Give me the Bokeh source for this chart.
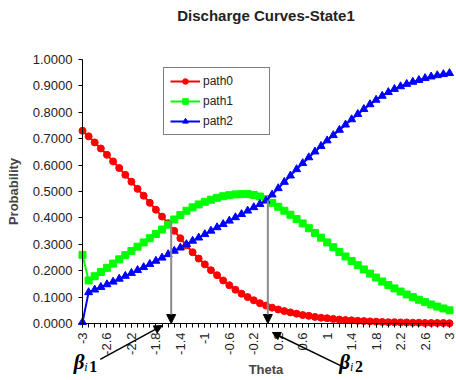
from math import pi
from bokeh.plotting import figure
from bokeh.models import Range1d, FixedTicker, NumeralTickFormatter, Arrow, NormalHead, Label
from bokeh.embed import file_html
from bokeh.resources import INLINE

theta = [-3.0, -2.9, -2.8, -2.7, -2.6, -2.5, -2.4, -2.3, -2.2, -2.1,
         -2.0, -1.9, -1.8, -1.7, -1.6, -1.5, -1.4, -1.3, -1.2, -1.1,
         -1.0, -0.9, -0.8, -0.7, -0.6, -0.5, -0.4, -0.3, -0.2, -0.1,
         0.0, 0.1, 0.2, 0.3, 0.4, 0.5, 0.6, 0.7, 0.8, 0.9,
         1.0, 1.1, 1.2, 1.3, 1.4, 1.5, 1.6, 1.7, 1.8, 1.9,
         2.0, 2.1, 2.2, 2.3, 2.4, 2.5, 2.6, 2.7, 2.8, 2.9, 3.0]

path0 = [0.730, 0.709, 0.686, 0.663, 0.639, 0.614, 0.589, 0.563, 0.537, 0.510,
         0.484, 0.457, 0.431, 0.405, 0.380, 0.351, 0.323, 0.296, 0.270, 0.246,
         0.224, 0.202, 0.183, 0.163, 0.145, 0.128, 0.113, 0.100, 0.088, 0.077,
         0.068, 0.060, 0.053, 0.047, 0.042, 0.037, 0.032, 0.029, 0.025, 0.022,
         0.020, 0.017, 0.015, 0.013, 0.012, 0.010, 0.009, 0.008, 0.007, 0.006,
         0.005, 0.005, 0.004, 0.004, 0.003, 0.003, 0.002, 0.002, 0.002, 0.002, 0.001]

path1 = [0.260, 0.163, 0.179, 0.195, 0.211, 0.227, 0.243, 0.259, 0.275, 0.291,
         0.307, 0.323, 0.339, 0.356, 0.374, 0.394, 0.411, 0.427, 0.440, 0.451,
         0.461, 0.469, 0.476, 0.482, 0.486, 0.489, 0.490, 0.490, 0.487, 0.481,
         0.471, 0.457, 0.442, 0.427, 0.412, 0.396, 0.379, 0.361, 0.343, 0.325,
         0.307, 0.289, 0.271, 0.254, 0.237, 0.221, 0.205, 0.189, 0.174, 0.159,
         0.146, 0.133, 0.121, 0.110, 0.100, 0.090, 0.081, 0.072, 0.064, 0.057, 0.050]

path2 = [0.005, 0.118, 0.128, 0.138, 0.148, 0.158, 0.169, 0.180, 0.191, 0.202,
         0.213, 0.225, 0.237, 0.249, 0.262, 0.275, 0.287, 0.300, 0.313, 0.325,
         0.338, 0.351, 0.364, 0.376, 0.389, 0.402, 0.414, 0.427, 0.440, 0.452,
         0.465, 0.488, 0.512, 0.536, 0.560, 0.584, 0.607, 0.629, 0.651, 0.672,
         0.693, 0.713, 0.733, 0.753, 0.773, 0.793, 0.812, 0.830, 0.847, 0.862,
         0.876, 0.888, 0.898, 0.907, 0.915, 0.922, 0.929, 0.935, 0.940, 0.944, 0.948]

x_label_ticks = [-3.0, -2.6, -2.2, -1.8, -1.4, -1.0, -0.6, -0.2,
                 0.2, 0.6, 1.0, 1.4, 1.8, 2.2, 2.6, 3.0]
x_tick_labels = ["-3", "-2.6", "-2.2", "-1.8", "-1.4", "-1", "-0.6", "-0.2",
                 "0.2", "0.6", "1", "1.4", "1.8", "2.2", "2.6", "3"]
y_ticks = [0.0, 0.1, 0.2, 0.3, 0.4, 0.5, 0.6, 0.7, 0.8, 0.9, 1.0]

# thresholds (beta) and the heights where the curves cross
beta_x = [-1.55, 0.03]
beta_top = [0.386, 0.466]
beta_index = ["1", "2"]

FONT = "Liberation Sans"

# canvas geometry: axes are fixed inside a frame that fills the canvas
W, H = 456, 380
AX_LEFT, AX_RIGHT, AX_TOP, AX_BOTTOM = 82, 449, 59, 323
xpp = 6.0 / (AX_RIGHT - AX_LEFT)
ypp = 1.0 / (AX_BOTTOM - AX_TOP)
x_range = Range1d(-3 - AX_LEFT * xpp, 3 + (W - AX_RIGHT) * xpp)
y_range = Range1d(-(H - AX_BOTTOM) * ypp, 1 + AX_TOP * ypp)

p = figure(width=W, height=H, output_backend="svg", toolbar_location=None,
           x_range=x_range, y_range=y_range,
           min_border_left=0, min_border_right=0, min_border_top=0, min_border_bottom=0,
           background_fill_color="white")
p.outline_line_color = None
p.grid.visible = False

# y axis
p.yaxis.fixed_location = -3
p.yaxis.bounds = (0, 1)
p.yaxis.ticker = FixedTicker(ticks=y_ticks)
p.yaxis.formatter = NumeralTickFormatter(format="0.0000")
p.yaxis.axis_label = "Probability"
p.yaxis.axis_label_text_font = FONT
p.yaxis.axis_label_text_font_size = "13px"
p.yaxis.axis_label_text_font_style = "bold"
p.yaxis.axis_label_standoff = 9
p.yaxis.major_label_text_font = FONT
p.yaxis.major_label_text_font_size = "13px"
p.yaxis.major_label_text_color = "#222222"
p.yaxis.major_tick_in = 0
p.yaxis.major_tick_out = 4
p.yaxis.minor_tick_line_color = None
p.yaxis.major_label_standoff = 6

# x axis
p.xaxis.fixed_location = 0
p.xaxis.bounds = (-3, 3)
p.xaxis.ticker = FixedTicker(ticks=x_label_ticks, minor_ticks=theta)
p.xaxis.major_label_overrides = dict(zip(x_label_ticks, x_tick_labels))
p.xaxis.major_label_orientation = pi / 2
p.xaxis.axis_label = "Theta"
p.xaxis.axis_label_text_font = FONT
p.xaxis.axis_label_text_font_size = "13px"
p.xaxis.axis_label_text_font_style = "bold"
p.xaxis.axis_label_standoff = 4
p.xaxis.major_label_text_font = FONT
p.xaxis.major_label_text_font_size = "13px"
p.xaxis.major_label_text_color = "#222222"
p.xaxis.major_tick_in = 0
p.xaxis.major_tick_out = 4
p.xaxis.minor_tick_in = 0
p.xaxis.minor_tick_out = 4
p.xaxis.minor_tick_line_color = "black"
p.xaxis.major_label_standoff = 5

for ax in (p.xaxis, p.yaxis):
    ax.axis_line_color = "black"
    ax.major_tick_line_color = "black"

# title
p.add_layout(Label(x=0, y=1 + (AX_TOP - 15) * ypp, text="Discharge Curves-State1",
                   text_font=FONT, text_font_size="15px", text_font_style="bold",
                   text_align="center", text_baseline="middle", text_color="#222222"))

# vertical threshold lines with arrowheads
for bx, bt in zip(beta_x, beta_top):
    p.add_layout(Arrow(end=NormalHead(size=9, fill_color="black", line_color="black"),
                       x_start=bx, y_start=bt, x_end=bx, y_end=0,
                       line_color="#8a8a8a", line_width=2))

# series
series = [(path0, "#ff0000", "circle", "path0", 7),
          (path1, "#00ff00", "square", "path1", 7),
          (path2, "#0000ff", "triangle", "path2", 8)]
for ys, col, mk, name, sz in series:
    p.line(theta, ys, line_color=col, line_width=2, legend_label=name)
    p.scatter(theta, ys, marker=mk, size=sz, fill_color=col, line_color=col, legend_label=name)

# beta labels and arrows below the axis
label_pos = [(-3.145, -0.144), (1.198, -0.144)]
arrow_start = [(-2.71, -0.136), (1.311, -0.170)]
arrow_end = [(-1.697, -0.008), (0.104, -0.034)]
for (lx, ly), (sx, sy), (ex, ey), idx in zip(label_pos, arrow_start, arrow_end, beta_index):
    p.add_layout(Arrow(end=NormalHead(size=8, fill_color="black", line_color="black"),
                       x_start=sx, y_start=sy, x_end=ex, y_end=ey,
                       line_color="black", line_width=1.5))
    p.add_layout(Label(x=lx, y=ly, text="β", text_font="Liberation Serif",
                       text_font_size="21px", text_font_style="bold italic",
                       text_align="left", text_baseline="middle", text_color="black"))
    p.add_layout(Label(x=lx + 0.175, y=ly - 0.022, text="i", text_font="Liberation Serif",
                       text_font_size="12px", text_font_style="italic",
                       text_align="left", text_baseline="middle", text_color="black"))
    p.add_layout(Label(x=lx + 0.255, y=ly - 0.018, text=idx, text_font="Liberation Serif",
                       text_font_size="16px", text_font_style="bold",
                       text_align="left", text_baseline="middle", text_color="black"))

lg = p.legend[0]
lg.location = (163, H - 135)
lg.margin = 0
lg.padding = 6
lg.spacing = 6
lg.glyph_width = 30
lg.glyph_height = 14
lg.label_height = 14
lg.label_width = 60
lg.label_standoff = 3
lg.label_text_font = FONT
lg.label_text_font_size = "12px"
lg.label_text_color = "#222222"
lg.border_line_color = "black"
lg.border_line_width = 1
lg.background_fill_color = "white"
lg.background_fill_alpha = 1

open("out.html", "w").write(file_html(p, INLINE))
